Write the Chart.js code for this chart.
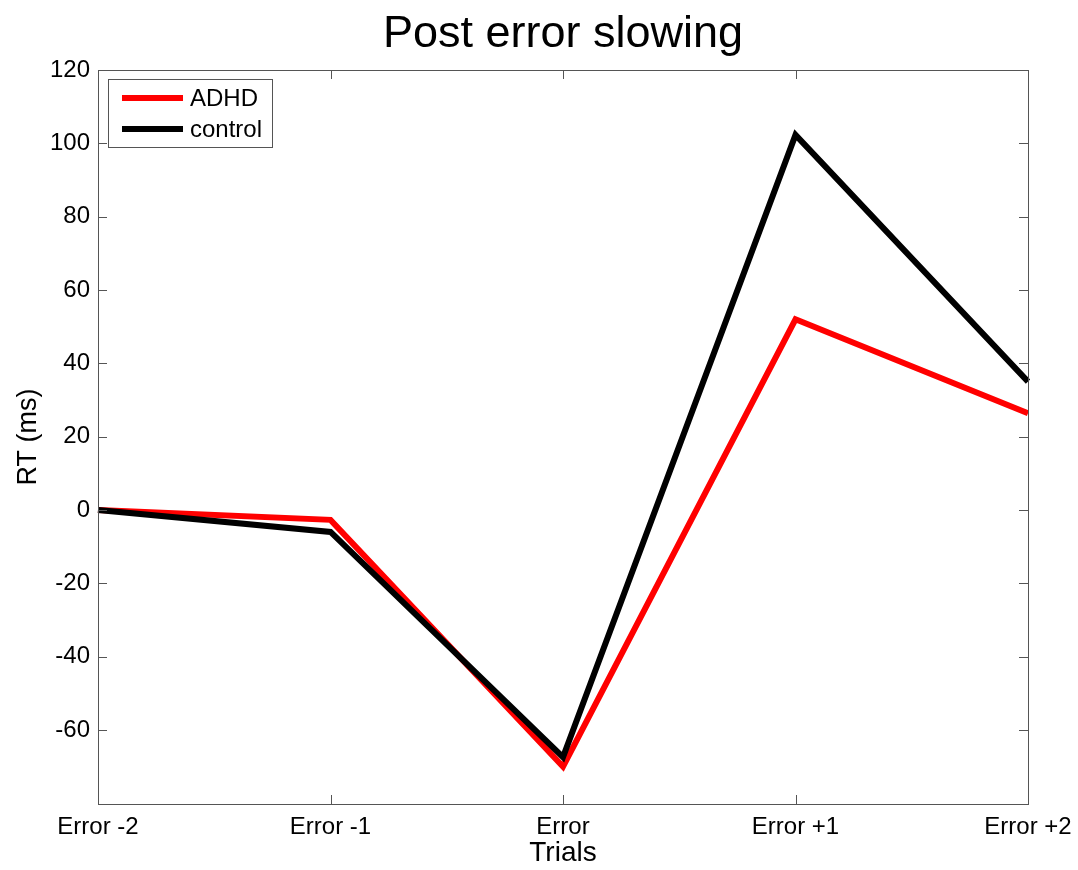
<!DOCTYPE html>
<html lang="en">
<head>
	<meta charset="UTF-8">
	<title>Post error slowing</title>
	<script src="https://cdn.jsdelivr.net/npm/chart.js"></script>
	<style>
		html, body { margin: 0; padding: 0; background: #fff; }
		#wrap { width: 1078px; height: 870px; }
	</style>
</head>
<body>
	<div id="wrap"><canvas id="pesChart"></canvas></div>
	<script>
	// values
	const trials = ['Error -2', 'Error -1', 'Error', 'Error +1', 'Error +2'];
	const adhdRT = [0, -2.7, -70, 52, 26.4];
	const controlRT = [0, -6, -67.4, 102.3, 35];
	const yTicks = [-60, -40, -20, 0, 20, 40, 60, 80, 100, 120];

	const FONT = "'Liberation Sans', Arial, sans-serif";
	const AXIS_GREY = '#555555';

	// box + inward ticks, title and legend, matlab style
	const frameTicks = {
		id: 'frameTicks',
		afterDatasetsDraw(chart) {
			const { ctx, chartArea: a, scales } = chart;
			ctx.save();
			ctx.strokeStyle = AXIS_GREY;
			ctx.lineWidth = 1;
			ctx.strokeRect(a.left + 0.5, a.top + 0.5, a.right - a.left, a.bottom - a.top);
			ctx.beginPath();
			yTicks.forEach(v => {
				const y = Math.round(scales.y.getPixelForValue(v)) + 0.5;
				ctx.moveTo(a.left, y); ctx.lineTo(a.left + 9, y);
				ctx.moveTo(a.right, y); ctx.lineTo(a.right - 9, y);
			});
			trials.forEach((t, i) => {
				const x = Math.round(scales.x.getPixelForValue(i)) + 0.5;
				ctx.moveTo(x, a.bottom); ctx.lineTo(x, a.bottom - 9);
				ctx.moveTo(x, a.top); ctx.lineTo(x, a.top + 9);
			});
			ctx.stroke();

			// title over the plot area
			ctx.fillStyle = '#000';
			ctx.font = '45px ' + FONT;
			ctx.textAlign = 'center';
			ctx.textBaseline = 'alphabetic';
			ctx.fillText('Post error slowing', (a.left + a.right) / 2, 47);

			// legend box in upper left
			const bx = a.left + 10, by = a.top + 9, bw = 164, bh = 68;
			ctx.fillStyle = '#fff';
			ctx.fillRect(bx, by, bw, bh);
			ctx.strokeRect(bx + 0.5, by + 0.5, bw, bh);
			ctx.font = '24px ' + FONT;
			ctx.textAlign = 'left';
			ctx.textBaseline = 'middle';
			chart.data.datasets.forEach((ds, i) => {
				const ly = by + 19 + i * 31;
				ctx.strokeStyle = ds.borderColor;
				ctx.lineWidth = 6;
				ctx.beginPath();
				ctx.moveTo(bx + 14, ly); ctx.lineTo(bx + 75, ly);
				ctx.stroke();
				ctx.fillStyle = '#000';
				ctx.fillText(ds.label, bx + 82, ly + 1);
			});
			ctx.restore();
		}
	};

	new Chart(document.getElementById('pesChart'), {
		type: 'line',
		data: {
			labels: trials,
			datasets: [{
				label: 'ADHD',
				data: adhdRT,
				borderColor: '#ff0000',
				borderWidth: 6,
				pointRadius: 0,
				tension: 0,
				order: 1
			}, {
				label: 'control',
				data: controlRT,
				borderColor: '#000000',
				borderWidth: 6,
				pointRadius: 0,
				tension: 0,
				order: 0
			}]
		},
		options: {
			responsive: true,
			maintainAspectRatio: false,
			animation: false,
			layout: { padding: { left: 0, right: 50, top: 70, bottom: 0 } },
			plugins: {
				legend: { display: false },
				tooltip: { enabled: false },
				title: { display: false }
			},
			scales: {
				x: {
					offset: false,
					grid: { display: false, drawTicks: false },
					border: { display: false },
					ticks: {
						color: '#000', font: { family: FONT, size: 24 },
						padding: 9, maxRotation: 0, autoSkip: false
					},
					title: {
						display: true, text: 'Trials', color: '#000',
						font: { family: FONT, size: 28 }, padding: { top: 3, bottom: 0 }
					},
					afterFit(scale) {
						scale.height = 66;
						scale.paddingLeft = 0;
						scale.paddingRight = 0;
					}
				},
				y: {
					min: -80.2,
					max: 120,
					grid: { display: false, drawTicks: false },
					border: { display: false },
					ticks: { color: '#000', font: { family: FONT, size: 24 }, padding: 8 },
					afterBuildTicks(scale) { scale.ticks = yTicks.map(v => ({ value: v })); },
					title: {
						display: true, text: 'RT (ms)', color: '#000',
						font: { family: FONT, size: 27 }, padding: { top: 12, bottom: 0 }
					},
					afterFit(scale) { scale.width = 98; }
				}
			}
		},
		plugins: [frameTicks]
	});
	</script>
</body>
</html>
